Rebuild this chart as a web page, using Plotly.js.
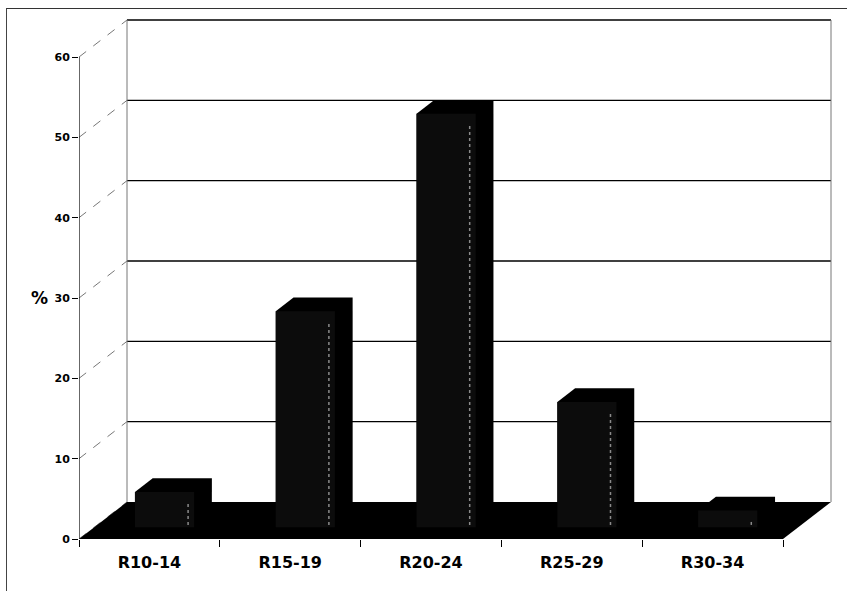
<!DOCTYPE html>
<html>
<head>
<meta charset="utf-8">
<script src="https://cdn.plot.ly/plotly-3.0.1.min.js"></script>
<style>
  html, body { margin: 0; padding: 0; background: #fff; }
  #wrap { position: relative; width: 847px; height: 591px; overflow: hidden; }
  #chart { width: 847px; height: 591px; }
  #frame { position: absolute; left: 6px; top: 8px; width: 900px; height: 700px;
           border-left: 1px solid #444; border-top: 1px solid #333; pointer-events: none; }
</style>
</head>
<body>
<div id="wrap">
  <div id="chart"></div>
  <div id="frame"></div>
</div>
<script>
// ---- data ----
const categories = ['R10-14', 'R15-19', 'R20-24', 'R25-29', 'R30-34'];
const percentValues = [4.4, 26.9, 51.5, 15.6, 2.1];
const yTickValues = [0, 10, 20, 30, 40, 50, 60];
const yAxisLabel = '%';

// ---- style / geometry constants ----
const W = 847, H = 591;
const M = { l: 79, r: 14, t: 18, b: 52 };
const PX_PER_CAT = 140.8;      // pixels per category on the front edge
const PX_PER_UNIT = 8.033;     // pixels per percent
const DEPTH_DX = 48 / PX_PER_CAT;   // oblique depth offset in x units
const DEPTH_DY = 37 / PX_PER_UNIT;  // oblique depth offset in y units
const BAR_W = 0.42;            // bar width as a fraction of a category
const D_FRONT = 0.315, D_BACK = 0.685; // bar front/back depth fractions

const xMax = (W - M.l - M.r) / PX_PER_CAT;
const yMax = (H - M.t - M.b) / PX_PER_UNIT;
const nCat = categories.length;
const topTick = Math.max(...yTickValues);

const traces = [];
function poly(xs, ys, fill) {
  traces.push({
    type: 'scatter', mode: 'lines', x: xs, y: ys,
    fill: 'toself', fillcolor: fill,
    line: { width: 0, color: fill },
    hoverinfo: 'skip', showlegend: false
  });
}
function seg(xs, ys, color, width, dash) {
  traces.push({
    type: 'scatter', mode: 'lines', x: xs, y: ys,
    line: { color: color, width: width, dash: dash || 'solid' },
    hoverinfo: 'skip', showlegend: false
  });
}

// back wall gridlines (back plane)
yTickValues.forEach(v => {
  if (v === 0) return;
  seg([DEPTH_DX, nCat + DEPTH_DX], [v + DEPTH_DY, v + DEPTH_DY], '#000', 1.3);
});
// left wall dashed diagonals
yTickValues.forEach(v => {
  seg([0, DEPTH_DX], [v, v + DEPTH_DY], '#666', 0.9, 'dash');
});
// back-left and back-right vertical edges
seg([DEPTH_DX, DEPTH_DX], [DEPTH_DY, topTick + DEPTH_DY], '#777', 1);
seg([nCat + DEPTH_DX, nCat + DEPTH_DX], [DEPTH_DY, topTick + DEPTH_DY], '#777', 1);
// front value axis line
seg([0, 0], [0, topTick], '#000', 1.2);

// floor
poly([0, nCat, nCat + DEPTH_DX, DEPTH_DX, 0], [0, 0, DEPTH_DY, DEPTH_DY, 0], '#000');

// bars
percentValues.forEach((v, i) => {
  const xlF = i + 0.5 - BAR_W / 2 + D_FRONT * DEPTH_DX;
  const xrF = i + 0.5 + BAR_W / 2 + D_FRONT * DEPTH_DX;
  const xlB = i + 0.5 - BAR_W / 2 + D_BACK * DEPTH_DX;
  const xrB = i + 0.5 + BAR_W / 2 + D_BACK * DEPTH_DX;
  const ybF = D_FRONT * DEPTH_DY, ytF = v + D_FRONT * DEPTH_DY;
  const ybB = D_BACK * DEPTH_DY, ytB = v + D_BACK * DEPTH_DY;
  // silhouette (top + side) in black
  poly([xlF, xlF, xlB, xrB, xrB, xrF, xlF], [ybF, ytF, ytB, ytB, ybB, ybF, ybF], '#000');
  // front face (near black, slightly lifted)
  poly([xlF, xrF, xrF, xlF, xlF], [ybF, ybF, ytF, ytF, ybF], '#0c0c0c');
  // speckled light stripe near right of front face
  const sx = xrF - 6 / PX_PER_CAT;
  seg([sx, sx], [ybF + 0.3, ytF - 1.2], '#8a8a8a', 1.5, 'dot');
});

const centers = categories.map((c, i) => i + 0.5);
const bounds = categories.map((c, i) => i).concat([nCat]);

const layout = {
  width: W, height: H,
  margin: M,
  paper_bgcolor: '#fff', plot_bgcolor: '#fff',
  showlegend: false,
  xaxis: {
    range: [0, xMax], showgrid: false, zeroline: false, showline: false, fixedrange: true,
    tickmode: 'array', tickvals: centers, ticktext: categories,
    ticks: 'outside', ticklen: 9, tickcolor: 'rgba(0,0,0,0)',
    tickfont: { family: 'DejaVu Sans', size: 16, weight: 'bold', color: '#000' },
    minor: { tickmode: 'array', tickvals: bounds, ticks: 'outside', ticklen: 7,
             tickcolor: '#000', tickwidth: 1, showgrid: false }
  },
  yaxis: {
    range: [0, yMax], showgrid: false, zeroline: false, showline: false, fixedrange: true,
    tickmode: 'array', tickvals: yTickValues, ticktext: yTickValues.map(String),
    ticks: 'outside', ticklen: 6, tickcolor: '#000', tickwidth: 1,
    tickfont: { family: 'DejaVu Sans', size: 11, weight: 'bold', color: '#000' }
  },
  annotations: [{
    text: yAxisLabel, xref: 'paper', yref: 'y', x: 0, y: topTick / 2,
    xanchor: 'right', yanchor: 'middle', xshift: -29, showarrow: false,
    font: { family: 'DejaVu Sans', size: 17, weight: 'bold', color: '#000' }
  }]
};

Plotly.newPlot('chart', traces, layout, { staticPlot: true, displayModeBar: false });
</script>
</body>
</html>
